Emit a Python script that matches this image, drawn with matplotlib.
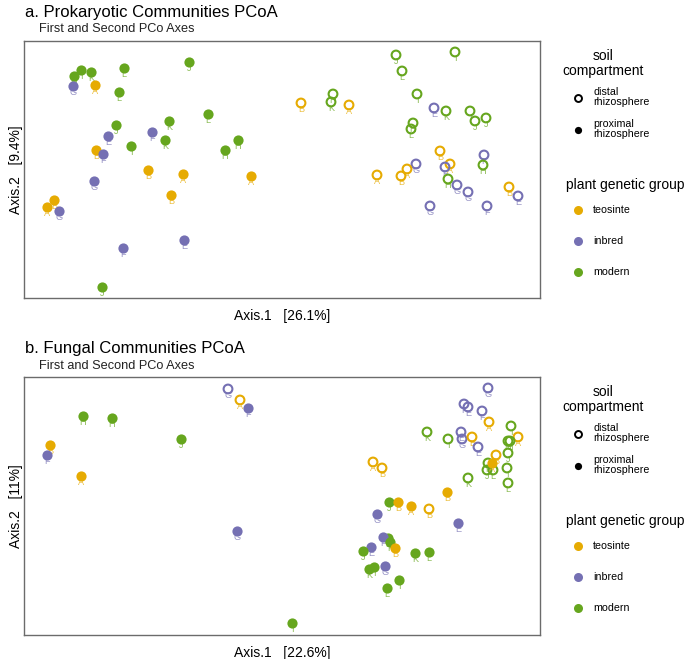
import matplotlib
matplotlib.use("Agg")
import matplotlib.pyplot as plt
from matplotlib.lines import Line2D

plt.rcParams['font.family'] = ['Liberation Sans', 'DejaVu Sans']

# ---------------- data ----------------
GROUP_COLORS = {'teosinte': '#E6AB02', 'inbred': '#7570B3', 'modern': '#66A61E'}
GENOTYPE_GROUP = {'A': 'teosinte', 'B': 'teosinte',
                  'E': 'inbred', 'F': 'inbred', 'G': 'inbred',
                  'H': 'modern', 'I': 'modern', 'J': 'modern', 'K': 'modern', 'L': 'modern'}
groups = ['teosinte', 'inbred', 'modern']
compartments = ['distal\nrhizosphere', 'proximal\nrhizosphere']

# Panel a: prokaryotic communities
a_dist_x = [0.114, 0.173, 0.120, 0.051, 0.049, 0.019, 0.067, 0.135, 0.152, 0.164,
            0.188, 0.193, 0.204, 0.131, 0.129, 0.158, 0.202, 0.201, 0.168, 0.163,
            0.134, 0.125, 0.119, 0.095, 0.166, 0.175, 0.186, 0.148, 0.205, 0.227, 0.236]
a_dist_y = [0.115, 0.118, 0.099, 0.076, 0.068, 0.067, 0.065, 0.076, 0.062, 0.059,
            0.059, 0.049, 0.052, 0.047, 0.041, 0.019, 0.015, 0.005, 0.006, 0.003,
            0.006, 0.001, -0.006, -0.005, -0.009, -0.015, -0.022, -0.036, -0.036, -0.017, -0.026]
a_dist_lab = ['J', 'I', 'L', 'H', 'K', 'B', 'A', 'I', 'E', 'K',
              'I', 'J', 'J', 'H', 'L', 'B', 'F', 'H', 'A', 'F',
              'G', 'A', 'B', 'A', 'H', 'G', 'G', 'G', 'F', 'B', 'E']

a_prox_x = [-0.208, -0.201, -0.191, -0.209, -0.187, -0.158, -0.093, -0.163, -0.074, -0.113,
            -0.166, -0.174, -0.130, -0.117, -0.044, -0.057, -0.151, -0.186, -0.179, -0.134,
            -0.099, -0.031, -0.188, -0.111, -0.228, -0.235, -0.223, -0.098, -0.159, -0.180]
a_prox_y = [0.094, 0.100, 0.098, 0.084, 0.085, 0.102, 0.108, 0.078, 0.056, 0.049,
            0.045, 0.034, 0.038, 0.030, 0.030, 0.020, 0.024, 0.020, 0.016, 0.000,
            -0.004, -0.006, -0.011, -0.025, -0.030, -0.037, -0.041, -0.070, -0.078, -0.117]
a_prox_lab = ['H', 'I', 'K', 'G', 'A', 'L', 'J', 'L', 'L', 'K',
              'J', 'E', 'F', 'K', 'H', 'H', 'I', 'B', 'F', 'B',
              'A', 'A', 'G', 'B', 'B', 'A', 'G', 'E', 'F', 'J']

# Panel b: fungal communities
b_dist_x = [-0.054, -0.042, 0.206, 0.182, 0.186, 0.200, 0.207, 0.229, 0.236, 0.226,
            0.228, 0.145, 0.166, 0.179, 0.180, 0.190, 0.196, 0.214, 0.226, 0.206,
            0.205, 0.211, 0.225, 0.226, 0.186, 0.091, 0.100, 0.147]
b_dist_y = [0.117, 0.106, 0.118, 0.102, 0.099, 0.095, 0.084, 0.080, 0.069, 0.065,
            0.065, 0.074, 0.067, 0.074, 0.067, 0.069, 0.059, 0.051, 0.053, 0.043,
            0.036, 0.036, 0.038, 0.023, 0.028, 0.044, 0.038, -0.003]
b_dist_lab = ['G', 'A', 'G', 'F', 'E', 'F', 'A', 'I', 'A', 'H',
              'H', 'K', 'I', 'E', 'G', 'B', 'E', 'B', 'J', 'K',
              'J', 'L', 'I', 'L', 'K', 'A', 'B', 'B']

b_prox_x = [-0.199, -0.170, -0.232, -0.235, -0.201, -0.101, -0.034, -0.045, 0.107, 0.116,
            0.129, 0.165, 0.095, 0.176, 0.106, 0.101, 0.108, 0.113, 0.089, 0.081,
            0.133, 0.147, 0.103, 0.087, 0.092, 0.117, 0.105, 0.010, 0.210]
b_prox_y = [0.090, 0.088, 0.061, 0.051, 0.030, 0.067, 0.098, -0.025, 0.004, 0.004,
            0.000, 0.014, -0.008, -0.017, -0.032, -0.031, -0.036, -0.042, -0.041, -0.045,
            -0.047, -0.046, -0.060, -0.063, -0.061, -0.074, -0.082, -0.117, 0.043]
b_prox_lab = ['H', 'H', 'B', 'F', 'A', 'J', 'F', 'G', 'J', 'B',
              'A', 'B', 'G', 'E', 'L', 'F', 'K', 'B', 'E', 'J',
              'K', 'L', 'G', 'K', 'I', 'I', 'L', 'I', 'A']

panels = [
    dict(title='a. Prokaryotic Communities PCoA', xlab='Axis.1   [26.1%]', ylab='Axis.2   [9.4%]',
         dist=(a_dist_x, a_dist_y, a_dist_lab), prox=(a_prox_x, a_prox_y, a_prox_lab),
         xlim=(-0.258, 0.258), ylim=(-0.128, 0.129)),
    dict(title='b. Fungal Communities PCoA', xlab='Axis.1   [22.6%]', ylab='Axis.2   [11%]',
         dist=(b_dist_x, b_dist_y, b_dist_lab), prox=(b_prox_x, b_prox_y, b_prox_lab),
         xlim=(-0.258, 0.258), ylim=(-0.129, 0.129)),
]

# ---------------- figure ----------------
W, H = 685, 659
fig = plt.figure(figsize=(W / 100, H / 100), dpi=100)


def fx(x):
    return x / W


def fy(y):
    return 1 - y / H


axes_px = [(24, 41, 540, 298), (24, 377, 540, 635)]
offsets = [0, 336]

for p, (l, t, r, b), dy in zip(panels, axes_px, offsets):
    ax = fig.add_axes([fx(l), fy(b), (r - l) / W, (b - t) / H])
    ax.set_xlim(*p['xlim'])
    ax.set_ylim(*p['ylim'])
    ax.set_xticks([])
    ax.set_yticks([])
    for s in ax.spines.values():
        s.set_color('#6b6b6b')
        s.set_linewidth(1.0)

    z = 2
    for comp, (xs, ys, labs) in (('distal', p['dist']), ('proximal', p['prox'])):
        for x, y, lab in zip(xs, ys, labs):
            c = GROUP_COLORS[GENOTYPE_GROUP[lab]]
            if comp == 'distal':
                ax.scatter([x], [y], s=40, facecolors='none', edgecolors=c,
                           linewidths=1.5, zorder=z)
            else:
                ax.scatter([x], [y], s=54, color=c, linewidths=0, zorder=z)
            ax.annotate(lab, (x, y), xytext=(0, -6.8), textcoords='offset points',
                        ha='center', va='baseline', fontsize=6.6, color=c,
                        alpha=0.75, zorder=z + 0.5)
            z += 1

    # titles and axis labels
    fig.text(fx(25), fy(17.5 + dy), p['title'], fontsize=12, va='baseline', ha='left')
    fig.text(fx(39), fy(32.5 + dy), 'First and Second PCo Axes', fontsize=9.2,
             va='baseline', ha='left', color='#222222')
    fig.text(fx((l + r) / 2), fy(b + 18), p['xlab'], fontsize=10, ha='center', va='center')
    fig.text(fx(16.5), fy((t + b) / 2), p['ylab'], fontsize=10, ha='center', va='center',
             rotation=90)

    # legend
    fig.text(fx(603), fy(56.5 + dy), 'soil', fontsize=10, ha='center', va='center')
    fig.text(fx(603), fy(71 + dy), 'compartment', fontsize=10, ha='center', va='center')
    comp_y = [97.5, 129.5]
    for cy, lab, filled in zip(comp_y, compartments, [False, True]):
        fig.add_artist(Line2D([fx(577.7)], [fy(cy + dy)], transform=fig.transFigure,
                              marker='o', linestyle='none', ms=5.2 if filled else 5.0,
                              mfc='black' if filled else 'none', mec='black',
                              mew=0 if filled else 1.4))
        fig.text(fx(593), fy(cy - 0.5 + dy), lab, fontsize=7.7, ha='left', va='center',
                 linespacing=1.12)
    fig.text(fx(566), fy(184.5 + dy), 'plant genetic group', fontsize=10, ha='left', va='center')
    grp_y = [210, 241, 272]
    for gy, g in zip(grp_y, groups):
        fig.add_artist(Line2D([fx(577.5)], [fy(gy + dy)], transform=fig.transFigure,
                              marker='o', linestyle='none', ms=6.5,
                              mfc=GROUP_COLORS[g], mec='none'))
        fig.text(fx(593), fy(gy + dy), g, fontsize=7.7, ha='left', va='center')

fig.savefig('out.png', dpi=100)
